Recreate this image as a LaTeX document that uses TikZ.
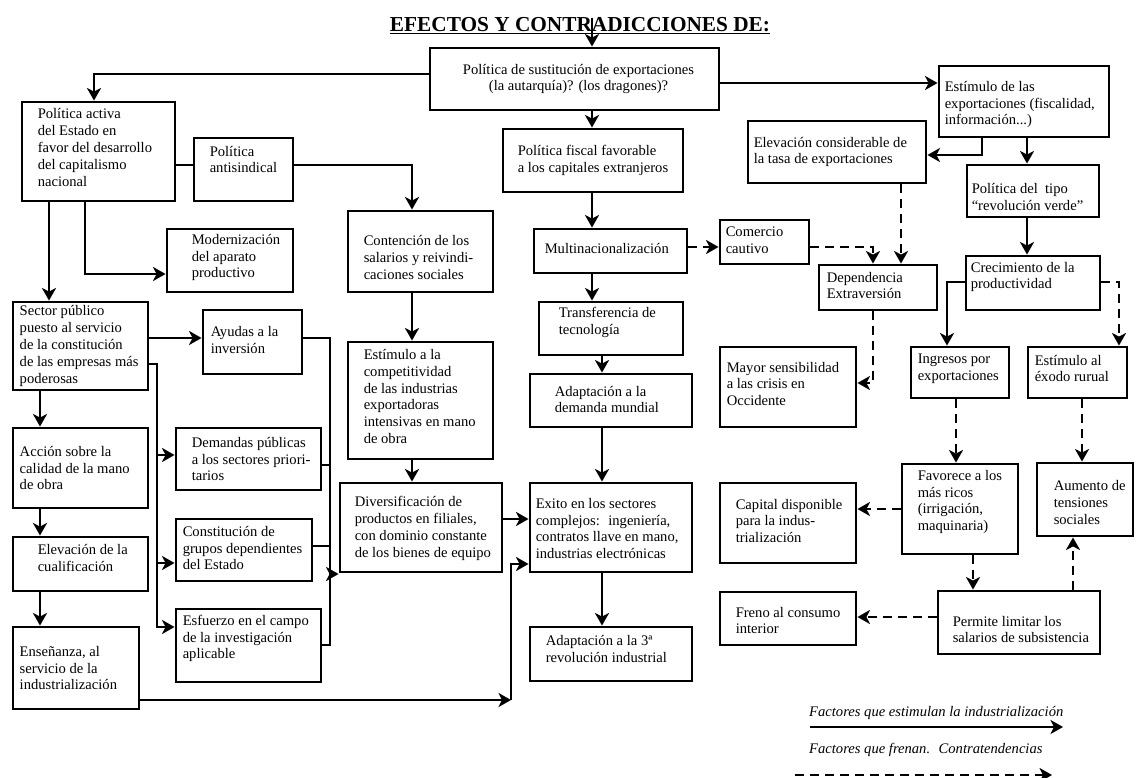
\documentclass[tikz,border=0pt]{standalone}
\usepackage{fontspec}
\setmainfont{Liberation Serif}
\usetikzlibrary{arrows.meta,calc}
\newcommand{\fs}{\fontsize{14.6}{16.9}\selectfont}
% name, x1, y1, x2, y2, left pad, vertical offset, text
\newcommand{\bx}[8]{%
  \node[box, minimum width={(#4-#2)*1pt}, minimum height={(#5-#3)*1pt}] (#1) at ({(#2+#4)/2},{(#3+#5)/2}) {};
  \node[txt, anchor=west] (#1-t) at ($(#1.west)+(#6,#7)$) {#8};
}
\begin{document}
\begin{tikzpicture}[x=1pt,y=-1pt,
  box/.style={draw, line width=2.9pt, rectangle, inner sep=0pt},
  txt/.style={inner sep=0pt, align=left, font=\fs},
  ln/.style={line width=2.5pt},
  arr/.style={line width=2.5pt, -{Stealth[length=12.5pt,width=14pt,inset=3.5pt]}},
  dsh/.style={arr, dash pattern=on 9pt off 6pt}]
\useasboundingbox (0,0) rectangle (1137,778);
\fill[white] (0,0) rectangle (1137,778);

\node[font=\fontsize{21.3}{25}\selectfont\bfseries, anchor=base, inner sep=0pt] (title) at (580,32) {\underline{EFECTOS Y CONTRADICCIONES DE:}};

\node[box, minimum width=289pt, minimum height=62pt] (T) at (574.5,79) {};
\node[txt, align=center] (T-t) at ($(T.center)+(4,0)$) {Política de sustitución de exportaciones\\(la autarquía)? (los dragones)?};

\bx{act}{22}{102}{175}{201}{17}{-4}{Política activa\\del Estado en\\favor del desarrollo\\del capitalismo\\nacional}
\bx{anti}{194}{138}{293}{201}{17}{-10}{Política\\antisindical}
\bx{mod}{167}{229}{293}{292}{26}{-3}{Modernización\\del aparato\\productivo}
\bx{sec}{13}{302}{148}{390}{8}{0}{Sector público\\puesto al servicio\\de la constitución\\de las empresas más\\poderosas}
\bx{ayu}{203}{310}{302}{374}{9}{-2}{Ayudas a la\\inversión}
\bx{dem}{176}{428}{321}{490}{17}{0}{Demandas públicas\\a los sectores priori-\\tarios}
\bx{acc}{13}{428}{148}{508}{8}{0}{Acción sobre la\\calidad de la mano\\de obra}
\bx{elev}{13}{537}{148}{591}{26}{-6}{Elevación de la\\cualificación}
\bx{ens}{13}{627}{139}{709}{8}{0}{Enseñanza, al\\servicio de la\\industrialización}
\bx{con}{176}{519}{312}{581}{8}{-2}{Constitución de\\grupos dependientes\\del Estado}
\bx{esf}{176}{609}{321}{682}{8}{-7}{Esfuerzo en el campo\\de la investigación\\aplicable}
\bx{cont}{348}{211}{493}{292}{17}{6}{Contención de los\\salarios y reivindi-\\caciones sociales}
\bx{est}{348}{342}{493}{459}{17}{-4}{Estímulo a la\\competitividad\\de las industrias\\exportadoras\\intensivas en mano\\de obra}
\bx{div}{340}{483}{502}{572}{16}{1}{Diversificación de\\productos en filiales,\\con dominio constante\\de los bienes de equipo}
\bx{fis}{503}{129}{683}{192}{16}{0}{Política fiscal favorable\\a los capitales extranjeros}
\bx{mul}{534}{229}{687}{273}{12}{-3}{Multinacionalización}
\bx{tra}{539}{302}{683}{355}{21}{-6}{Transferencia de\\tecnología}
\bx{adm}{530}{374}{692}{427}{26}{-1}{Adaptación a la\\demanda mundial}
\bx{exi}{530}{483}{692}{572}{7}{1}{Exito en los sectores\\complejos:~ ingeniería,\\contratos llave en mano,\\industrias electrónicas}
\bx{ad3}{530}{627}{692}{681}{17}{-5}{Adaptación a la 3ª\\revolución industrial}
\bx{com}{720}{220}{809}{264}{7}{-2}{Comercio\\cautivo}
\bx{estx}{939}{66}{1109}{137}{7}{3}{Estímulo de las\\exportaciones (fiscalidad,\\información...)}
\bx{elc}{748}{121}{926}{183}{7}{0}{Elevación considerable de\\la tasa de exportaciones}
\bx{ver}{967}{165}{1099}{217}{6}{6}{Política del~ tipo\\“revolución verde”}
\bx{dep}{819}{265}{937}{310}{9}{-2}{Dependencia\\Extraversión}
\bx{may}{720}{347}{856}{427}{8}{-3}{Mayor sensibilidad\\a las crisis en\\Occidente}
\bx{cre}{966}{256}{1100}{310}{6}{-6}{Crecimiento de la\\productividad}
\bx{ing}{911}{347}{1009}{398}{8}{-4}{Ingresos por\\exportaciones}
\bx{exo}{1028}{347}{1127}{398}{8}{-4}{Estímulo al\\éxodo rurual}
\bx{fav}{902}{464}{1018}{554}{17}{-7}{Favorece a los\\más ricos\\(irrigación,\\maquinaria)}
\bx{aum}{1037}{463}{1133}{536}{18}{3}{Aumento de\\tensiones\\sociales}
\bx{cap}{720}{483}{856}{563}{17}{-2}{Capital disponible\\para la indus-\\trialización}
\bx{fre}{720}{592}{856}{645}{17}{2}{Freno al consumo\\interior}
\bx{per}{938}{591}{1100}{654}{16}{7}{Permite limitar los\\salarios de subsistencia}

% solid connectors
\coordinate (tin) at (592,18);
\draw[arr] (tin) -- (T.north -| 592,0);
\draw[arr] (T.west |- 0,74) -- (94,74) -- (act.north -| 94,0);
\draw[ln] (act.east |- 0,165) -- (anti.west |- 0,165);
\draw[arr] (anti.east |- 0,165) -- (412,165) -- (cont.north -| 412,0);
\draw[arr] (act.south -| 49,0) -- (sec.north -| 49,0);
\draw[arr] (act.south -| 85,0) -- (85,274) -- (mod.west |- 0,274);
\draw[arr] (sec.east |- 0,338) -- (ayu.west |- 0,338);
\draw[arr] (sec.east |- 0,364) -- (157,364) -- (157,627) -- (esf.west |- 0,627);
\draw[arr] (157,455) -- (dem.west |- 0,455);
\draw[arr] (157,563) -- (con.west |- 0,563);
\draw[arr] (sec.south -| 40,0) -- (acc.north -| 40,0);
\draw[arr] (acc.south -| 40,0) -- (elev.north -| 40,0);
\draw[arr] (elev.south -| 40,0) -- (ens.north -| 40,0);
\draw[ln] (ayu.east |- 0,338) -- (330,338) -- (330,645) -- (esf.east |- 0,645);
\draw[ln] (dem.east |- 0,465) -- (330,465);
\draw[ln] (con.east |- 0,546) -- (330,546);
\draw[arr] (330,574) -- (div.west |- 0,574);
\draw[arr] (cont.south -| 412,0) -- (est.north -| 412,0);
\draw[arr] (est.south -| 412,0) -- (div.north -| 412,0);
\draw[arr] (div.east |- 0,519) -- (exi.west |- 0,519);
\coordinate (enc) at (511,700);
\draw[arr] (ens.east |- 0,700) -- (enc);
\draw[arr] (enc) -- (511,564) -- (exi.west |- 0,564);
\draw[arr] (exi.south -| 602,0) -- (ad3.north -| 602,0);
\draw[arr] (T.south -| 592,0) -- (fis.north -| 592,0);
\draw[arr] (fis.south -| 592,0) -- (mul.north -| 592,0);
\draw[arr] (mul.south -| 592,0) -- (tra.north -| 592,0);
\draw[arr] (tra.south -| 602,0) -- (adm.north -| 602,0);
\draw[arr] (adm.south -| 602,0) -- (exi.north -| 602,0);
\draw[arr] (T.east |- 0,83) -- (estx.west |- 0,83);
\draw[arr] (estx.south -| 982,0) -- (982,155) -- (elc.east |- 0,155);
\draw[arr] (estx.south -| 1027,0) -- (ver.north -| 1027,0);
\draw[arr] (ver.south -| 1027,0) -- (cre.north -| 1027,0);
\draw[arr] (cre.west |- 0,282) -- (947,282) -- (ing.north -| 947,0);

% dashed connectors
\draw[dsh] (mul.east |- 0,247) -- (com.west |- 0,247);
\draw[dsh] (com.east |- 0,247) -- (873,247) -- (dep.north -| 873,0);
\draw[dsh] (elc.south -| 901,0) -- (dep.north -| 901,0);
\draw[dsh] (dep.south -| 873,0) -- (873,383) -- (may.east |- 0,383);
\draw[dsh] (cre.east |- 0,282) -- (1119,282) -- (exo.north -| 1119,0);
\draw[dsh] (ing.south -| 956,0) -- (fav.north -| 956,0);
\draw[dsh] (exo.south -| 1082,0) -- (aum.north -| 1082,0);
\draw[dsh] (fav.west |- 0,509) -- (cap.east |- 0,509);
\draw[dsh] (fav.south -| 973,0) -- (per.north -| 973,0);
\draw[dsh] (per.west |- 0,617) -- (fre.east |- 0,617);
\draw[dsh] (per.north -| 1073,0) -- (aum.south -| 1073,0);

% legend
\node[txt, font=\fs\itshape, anchor=base west] (lg1) at (809,716) {Factores que estimulan la industrialización};
\coordinate (l1a) at (810,727);
\coordinate (l1b) at (1063,727);
\draw[arr] (l1a) -- (l1b);
\node[txt, font=\fs\itshape, anchor=base west] (lg2) at (809,753) {Factores que frenan.~ Contratendencias};
\coordinate (l2a) at (795,775);
\coordinate (l2b) at (1052,775);
\draw[dsh] (l2a) -- (l2b);
\end{tikzpicture}
\end{document}
